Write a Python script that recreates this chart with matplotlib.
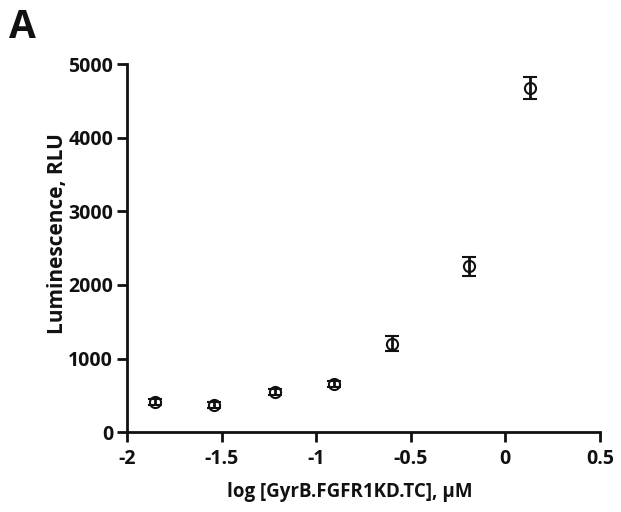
import matplotlib.pyplot as plt
import numpy as np

# data
log_conc = [-1.85, -1.54, -1.22, -0.905, -0.6, -0.19, 0.13]
lum = [410, 365, 545, 655, 1200, 2250, 4670]
lum_err = [40, 40, 45, 40, 100, 130, 150]

x_ticks = [-2, -1.5, -1, -0.5, 0, 0.5]
x_tick_labels = ["-2", "-1.5", "-1", "-0.5", "0", "0.5"]
y_ticks = [0, 1000, 2000, 3000, 4000, 5000]

plt.rcParams['font.family'] = ['Open Sans', 'DejaVu Sans']
plt.rcParams['font.weight'] = 'bold'

fig = plt.figure(figsize=(6.21, 5.12), dpi=100)
ax = fig.add_axes([0.2045, 0.156, 0.7615, 0.719])

# open circles with the error bar showing through them
ax.errorbar(log_conc, lum, yerr=lum_err, fmt='o', mfc='none', mec='#111111',
            ms=8, mew=1.5, ecolor='#111111', elinewidth=2, capsize=5,
            capthick=3, zorder=3)

ax.set_xlim(-2, 0.5)
ax.set_ylim(0, 5000)
ax.set_xticks(x_ticks)
ax.set_xticklabels(x_tick_labels)
ax.set_yticks(y_ticks)

for s in ['top', 'right']:
    ax.spines[s].set_visible(False)
for s in ['left', 'bottom']:
    ax.spines[s].set_linewidth(2)
    ax.spines[s].set_color('#111111')
ax.tick_params(width=2, length=7, labelsize=14, colors='#111111', pad=3)
ax.tick_params(axis='x', pad=5)
for lab in ax.get_xticklabels() + ax.get_yticklabels():
    lab.set_fontweight('bold')

ax.set_xlabel("log [GyrB.FGFR1KD.TC], μM", fontsize=13.5, fontweight='bold',
              color='#111111')
ax.set_ylabel("Luminescence, RLU", fontsize=15, fontweight='bold',
              color='#111111')
ax.xaxis.set_label_coords(0.47, -0.135)
ax.yaxis.set_label_coords(-0.125, 0.54)

fig.text(0.015, 0.925, "A", fontsize=28, fontweight='bold', color='#111111')

fig.savefig("out.png", dpi=100)
